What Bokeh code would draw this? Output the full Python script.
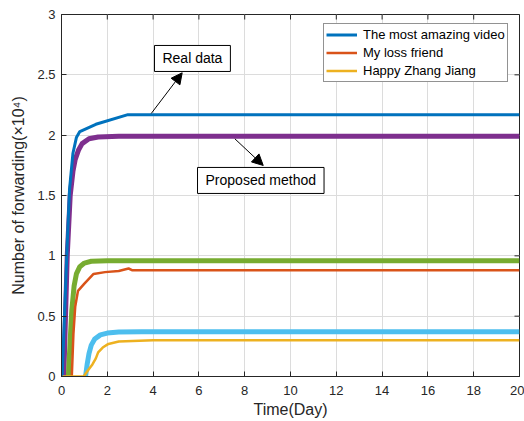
from bokeh.plotting import figure
from bokeh.models import (Label, Arrow, NormalHead, FixedTicker, Range1d,
                          Legend, LegendItem)
from bokeh.embed import file_html
from bokeh.resources import INLINE

# ---- data ----
real_video_x = [0.03, 0.15, 0.25, 0.35, 0.5, 0.65, 0.8, 1.5, 2.9, 20]
real_video_y = [0.0, 0.6, 1.1, 1.55, 1.85, 1.98, 2.03, 2.09, 2.17, 2.17]

real_friend_x = [0.45, 0.52, 0.6, 0.72, 1.0, 1.4, 1.9, 2.5, 2.93, 3.1, 20]
real_friend_y = [0.0, 0.35, 0.58, 0.71, 0.77, 0.85, 0.865, 0.875, 0.895, 0.88, 0.88]

real_zhang_x = [0.05, 0.97, 1.15, 1.35, 1.5, 1.6, 1.8, 2.05, 2.5, 4.0, 20]
real_zhang_y = [0.0, 0.0, 0.05, 0.10, 0.15, 0.20, 0.24, 0.27, 0.29, 0.30, 0.30]

model_video_x = [0.1, 0.25, 0.38, 0.5, 0.6, 0.75, 0.9, 1.2, 1.6, 2.5, 20]
model_video_y = [0.0, 1.0, 1.5, 1.7, 1.8, 1.88, 1.93, 1.97, 1.985, 1.99, 1.99]

model_friend_x = [0.3, 0.38, 0.45, 0.55, 0.65, 0.8, 1.0, 1.3, 2.0, 20]
model_friend_y = [0.0, 0.3, 0.55, 0.75, 0.85, 0.91, 0.94, 0.955, 0.96, 0.96]

model_zhang_x = [1.05, 1.12, 1.2, 1.3, 1.45, 1.7, 2.0, 2.5, 3.5, 20]
model_zhang_y = [0.0, 0.1, 0.19, 0.26, 0.31, 0.345, 0.36, 0.368, 0.37, 0.37]

legend_labels = ["The most amazing video", "My loss friend", "Happy Zhang Jiang"]
x_ticks = [0, 2, 4, 6, 8, 10, 12, 14, 16, 18, 20]
y_ticks = [0, 0.5, 1, 1.5, 2, 2.5, 3]
y_tick_labels = ["0", "0.5", "1", "1.5", "2", "2.5", "3"]

note_real = "Real data"
note_real_box = (4.06, 2.528)
note_real_arrow = (3.92, 2.18, 5.27, 2.517)
note_model = "Proposed method"
note_model_box = (5.94, 1.517)
note_model_arrow = (7.57, 1.97, 8.81, 1.749)

FONT = "Liberation Sans"
TXT = "#262626"
X0, X1, Y0, Y1 = 0, 20, 0, 3
FRAME_W, FRAME_H = 458, 362
TICK_PX = 5

p = figure(width=524, height=421, output_backend="svg", toolbar_location=None,
           x_range=Range1d(X0, X1), y_range=Range1d(Y0, Y1),
           min_border_left=61, min_border_right=5, min_border_top=14, min_border_bottom=45)
p.outline_line_color = TXT
p.outline_line_width = 1

# axes
for ax in (p.xaxis[0], p.yaxis[0]):
    ax.major_tick_in = TICK_PX
    ax.major_tick_out = 0
    ax.minor_tick_in = 0
    ax.minor_tick_out = 0
    ax.axis_line_color = TXT
    ax.major_tick_line_color = TXT
    ax.major_label_text_font = FONT
    ax.major_label_text_font_size = "13px"
    ax.major_label_text_color = TXT
    ax.axis_label_text_font = FONT
    ax.axis_label_text_font_size = "16px"
    ax.axis_label_text_font_style = "normal"
    ax.axis_label_text_color = TXT
p.xaxis.ticker = FixedTicker(ticks=x_ticks)
p.yaxis.ticker = FixedTicker(ticks=y_ticks)
p.yaxis.major_label_overrides = {t: l for t, l in zip(y_ticks, y_tick_labels)}
p.xaxis.axis_label = "Time(Day)"
p.yaxis.axis_label = "Number of forwarding(×10⁴)"
p.xaxis.major_label_standoff = 9
p.yaxis.major_label_standoff = 6
p.xaxis.axis_label_standoff = 3
p.yaxis.axis_label_standoff = 7

p.grid.grid_line_color = "#dcdcdc"
p.grid.grid_line_width = 1
p.xgrid.ticker = FixedTicker(ticks=x_ticks)
p.ygrid.ticker = FixedTicker(ticks=y_ticks)

# ticks on the top and right edges of the box (mirroring the axis ticks)
dy = TICK_PX * (Y1 - Y0) / FRAME_H
dx = TICK_PX * (X1 - X0) / FRAME_W
p.segment(x0=x_ticks, y0=[Y1] * len(x_ticks), x1=x_ticks, y1=[Y1 - dy] * len(x_ticks),
          line_color=TXT, line_width=1)
p.segment(x0=[X1] * len(y_ticks), y0=y_ticks, x1=[X1 - dx] * len(y_ticks), y1=y_ticks,
          line_color=TXT, line_width=1)

# model curves (thick)
p.line(model_video_x, model_video_y, line_color="#7E2F8E", line_width=5, line_join="round")
p.line(model_friend_x, model_friend_y, line_color="#77AC30", line_width=5, line_join="round")
p.line(model_zhang_x, model_zhang_y, line_color="#4DBEEE", line_width=5, line_join="round")
# real curves (thin)
r1 = p.line(real_video_x, real_video_y, line_color="#0072BD", line_width=3)
r2 = p.line(real_friend_x, real_friend_y, line_color="#D95319", line_width=2.5)
r3 = p.line(real_zhang_x, real_zhang_y, line_color="#EDB120", line_width=2.5)

legend = Legend(items=[LegendItem(label=legend_labels[0], renderers=[r1]),
                       LegendItem(label=legend_labels[1], renderers=[r2]),
                       LegendItem(label=legend_labels[2], renderers=[r3])],
                location=(262, 294), padding=2, spacing=1, margin=0,
                glyph_width=31, glyph_height=17, label_height=17, label_standoff=6,
                label_text_font=FONT, label_text_font_size="13px", label_text_color="#000000",
                border_line_color=TXT, border_line_width=1, background_fill_alpha=1)
p.add_layout(legend, "center")

for txt, (bx, by), (x0, y0, x1, y1) in ((note_real, note_real_box, note_real_arrow),
                                        (note_model, note_model_box, note_model_arrow)):
    p.add_layout(Label(x=bx, y=by, text=txt, anchor="bottom_left", padding=(8, 5),
                       text_font=FONT, text_font_size="14px", text_color="#000000",
                       border_line_color="#000000", border_line_width=1,
                       background_fill_color="white", background_fill_alpha=1))
    p.add_layout(Arrow(x_start=x0, y_start=y0, x_end=x1, y_end=y1, line_width=1,
                       line_color="black",
                       end=NormalHead(size=11, fill_color="black", line_color="black")))

open("out.html", "w").write(file_html(p, INLINE))
